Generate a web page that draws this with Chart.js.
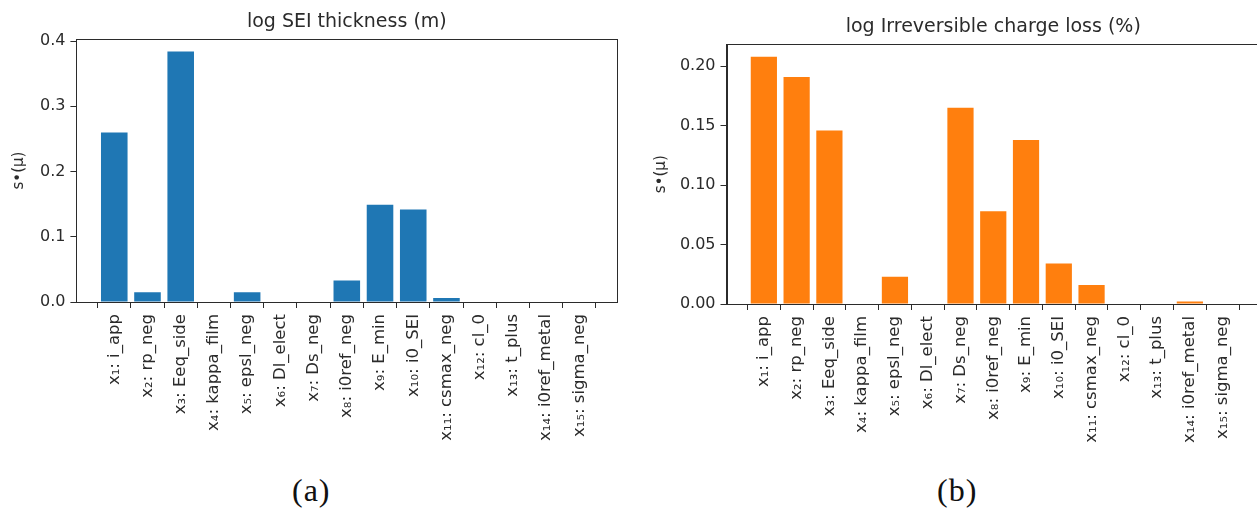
<!DOCTYPE html>
<html>
<head>
<meta charset="utf-8">
<script src="https://cdn.jsdelivr.net/npm/chart.js@4.4.1/dist/chart.umd.min.js"></script>
<style>
  body { margin: 0; width: 1257px; height: 513px; overflow: hidden; background: #fff; position: relative; }
  .panel { position: absolute; top: 0; width: 640px; height: 470px; }
  .caption { position: absolute; top: 472px; font: 32px "Liberation Serif", serif; color: #111; letter-spacing: 1px; }
</style>
</head>
<body>
<div class="panel" style="left:0"><canvas id="chartA"></canvas></div>
<div class="panel" style="left:640px"><canvas id="chartB"></canvas></div>
<div class="caption" style="left:292px">(a)</div>
<div class="caption" style="left:937px">(b)</div>
<script>
let params = ['x₁: i_app', 'x₂: rp_neg', 'x₃: Eeq_side', 'x₄: kappa_film', 'x₅: epsl_neg',
    'x₆: Dl_elect', 'x₇: Ds_neg', 'x₈: i0ref_neg', 'x₉: E_min', 'x₁₀: i0_SEI',
    'x₁₁: csmax_neg', 'x₁₂: cl_0', 'x₁₃: t_plus', 'x₁₄: i0ref_metal', 'x₁₅: sigma_neg'];

let seiValues = [0.260, 0.015, 0.384, 0, 0.015, 0, 0, 0.033, 0.149, 0.142, 0.006, 0, 0, 0, 0];
let lossValues = [0.208, 0.191, 0.146, 0, 0.023, 0, 0.165, 0.078, 0.138, 0.034, 0.016, 0, 0, 0.002, 0];

let seiTicks = [0.0, 0.1, 0.2, 0.3, 0.4];
let lossTicks = [0.00, 0.05, 0.10, 0.15, 0.20];

const ink = '#2b2b2b';
const font = 'DejaVu Sans';

// full frame around the plot area
const frame = {
    id: 'frame',
    afterDraw(chart) {
        const a = chart.chartArea;
        const c = chart.ctx;
        c.save();
        c.strokeStyle = ink;
        c.lineWidth = 1;
        c.strokeRect(Math.round(a.left) + 0.5, Math.round(a.top) + 0.5,
            Math.round(a.right - a.left), Math.round(a.bottom - a.top));
        c.restore();
    }
};

function makeChart(id, title, values, color, yTicks, digits, g) {
    const n = values.length;
    // x limits: bar half width plus 5% margin on each side
    const span = (n - 1) + 0.8;
    const lo = -0.4 - span * 0.05;
    const hi = n - 1 + 0.4 + span * 0.05;
    return new Chart(document.getElementById(id), {
        type: 'bar',
        data: {
            datasets: [{
                data: values.map((v, i) => ({ x: i, y: v })),
                backgroundColor: color,
                borderWidth: 0,
                barPercentage: 0.8,
                categoryPercentage: 1.0
            }]
        },
        options: {
            responsive: true,
            maintainAspectRatio: false,
            animation: false,
            layout: { padding: { left: 0, right: g.right, top: g.top, bottom: 0 } },
            plugins: {
                legend: { display: false },
                tooltip: { enabled: false },
                title: {
                    display: true,
                    fullSize: false,
                    text: title,
                    color: ink,
                    font: { family: font, size: 19, weight: 'normal' },
                    padding: { top: 10.6, bottom: 5.6 }
                }
            },
            scales: {
                x: {
                    type: 'linear',
                    offset: false,
                    min: lo,
                    max: hi,
                    afterBuildTicks: (s) => { s.ticks = params.map((_, i) => ({ value: i })); },
                    afterFit: (s) => { s.height = g.xHeight; },
                    ticks: {
                        autoSkip: false,
                        minRotation: 90,
                        maxRotation: 90,
                        padding: 6,
                        color: ink,
                        font: { family: font, size: 16.5 },
                        callback: (v) => params[v]
                    },
                    grid: { drawOnChartArea: false, drawTicks: true, tickLength: 6, color: ink },
                    border: { display: true, color: ink }
                },
                y: {
                    min: 0,
                    max: Math.max(...values) * 1.05,
                    afterBuildTicks: (s) => { s.ticks = yTicks.map(v => ({ value: v })); },
                    afterFit: (s) => { s.width = g.yWidth; },
                    ticks: {
                        padding: 5,
                        color: ink,
                        font: { family: font, size: 16 },
                        callback: (v) => v.toFixed(digits)
                    },
                    grid: { drawOnChartArea: false, drawTicks: true, tickLength: 6, color: ink },
                    border: { display: true, color: ink },
                    title: {
                        display: true,
                        text: 's•(μ)',
                        color: ink,
                        font: { family: font, size: 15 },
                        padding: { top: g.titlePad, bottom: 0 }
                    }
                }
            }
        },
        plugins: [frame]
    });
}

makeChart('chartA', 'log SEI thickness (m)', seiValues, '#1f77b4', seiTicks, 1,
    { right: 22.8, top: 0, xHeight: 168, yWidth: 76.4, titlePad: 10 });
makeChart('chartB', 'log Irreversible charge loss (%)', lossValues, '#ff7f0e', lossTicks, 2,
    { right: 20, top: 5.4, xHeight: 166, yWidth: 86.5, titlePad: 12 });
</script>
</body>
</html>
